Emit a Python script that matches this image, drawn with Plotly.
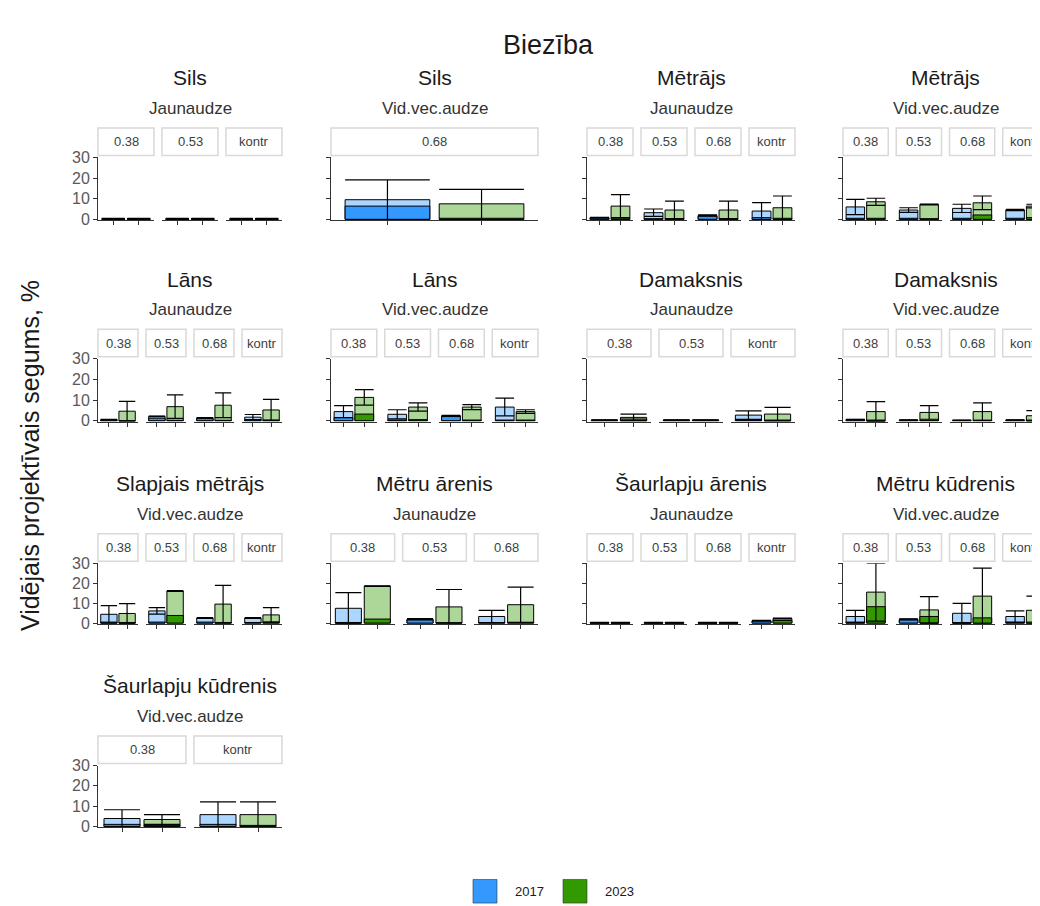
import plotly.graph_objects as go

W, H = 1040, 906

# --- dati (nolasīti no attēla) ---
panel_titles = ["Sils", "Sils", "Mētrājs", "Mētrājs",
                "Lāns", "Lāns", "Damaksnis", "Damaksnis",
                "Slapjais mētrājs", "Mētru ārenis", "Šaurlapju ārenis", "Mētru kūdrenis",
                "Šaurlapju kūdrenis"]
panel_subtitles = ["Jaunaudze", "Vid.vec.audze", "Jaunaudze", "Vid.vec.audze",
                   "Jaunaudze", "Vid.vec.audze", "Jaunaudze", "Vid.vec.audze",
                   "Vid.vec.audze", "Jaunaudze", "Jaunaudze", "Vid.vec.audze",
                   "Vid.vec.audze"]
L4 = ["0.38", "0.53", "0.68", "kontr"]
panel_levels = [["0.38", "0.53", "kontr"], ["0.68"], L4, L4,
                L4, L4, ["0.38", "0.53", "kontr"], L4,
                L4, ["0.38", "0.53", "0.68"], L4, L4,
                ["0.38", "kontr"]]
years = ["2017", "2023"]

mean_2017 = [[0.3, 0.3, 0.3], [9.5], [0.8, 3.2, 1.9, 4.0], [6.0, 4.5, 5.3, 4.5],
             [0.5, 2.1, 1.4, 1.7], [4.4, 3.1, 2.4, 6.6], [0.3, 0.3, 2.7], [0.6, 0.3, 0.2, 0.3],
             [4.4, 6.1, 2.5, 2.5], [7.4, 2.0, 3.3], [0.2, 0.2, 0.2, 1.2], [3.3, 2.0, 4.9, 3.3],
             [3.9, 5.8]]
median_2017 = [[0.1, 0.1, 0.1], [6.4], [0.6, 0.3, 1.5, 0.8], [0.5, 0.5, 0.5, 0.5],
               [0.4, 1.2, 1.0, 0.5], [1.5, 0.3, 2.0, 0.3], [0.2, 0.2, 0.3], [0.5, 0.2, 0.1, 0.2],
               [0.5, 0.5, 0.5, 0.3], [0.3, 1.5, 0.3], [0.1, 0.1, 0.1, 1.0], [0.5, 1.5, 0.3, 0.3],
               [1.0, 1.0]]
sd_2017 = [[0.1, 0.1, 0.1], [9.6], [0.1, 1.8, 0.3, 4.1], [3.7, 1.1, 2.0, 0.3],
           [0.1, 0.1, 0.1, 1.3], [2.9, 2.2, 0.2, 4.3], [0.1, 0.1, 2.1], [0.1, 0.1, 0.1, 0.1],
           [4.3, 1.6, 0.2, 0.2], [7.8, 0.2, 3.1], [0.1, 0.1, 0.1, 0.1], [3.1, 0.1, 5.0, 2.8],
           [4.3, 6.3]]

mean_2023 = [[0.3, 0.3, 0.3], [7.5], [6.4, 4.5, 4.5, 5.6], [8.5, 7.2, 8.0, 6.4],
             [4.6, 6.8, 7.5, 5.2], [11.3, 6.6, 6.6, 4.4], [1.6, 0.3, 3.2], [4.4, 4.0, 4.4, 2.4],
             [4.8, 16.1, 9.5, 4.1], [18.5, 8.1, 9.2], [0.2, 0.2, 0.2, 2.3], [15.5, 6.6, 13.5, 6.4],
             [3.4, 5.8]]
median_2023 = [[0.1, 0.1, 0.1], [0.0], [0.2, 0.3, 0.3, 0.5], [0.5, 0.3, 2.1, 0.8],
               [0.0, 0.2, 0.2, 0.3], [3.2, 0.5, 0.3, 0.3], [0.8, 0.2, 0.3], [0.3, 0.2, 0.2, 0.3],
               [0.3, 3.8, 0.3, 0.5], [2.0, 0.2, 0.3], [0.1, 0.1, 0.1, 1.3], [8.2, 3.3, 2.6, 0.5],
               [0.5, 0.5]]
sd_2023 = [[0.1, 0.1, 0.1], [7.0], [5.6, 4.3, 4.3, 5.7], [1.7, 0.2, 3.3, 0.9],
           [4.8, 5.7, 6.0, 5.1], [3.8, 2.0, 1.2, 0.9], [1.6, 0.1, 3.3], [4.8, 3.3, 4.2, 2.5],
           [4.9, 0.2, 9.4, 3.6], [0.1, 8.7, 8.8], [0.1, 0.1, 0.1, 0.2], [14.5, 6.6, 14.0, 7.1],
           [2.4, 6.3]]

y_ticks = [0, 10, 20, 30]

# krāsas
col_dark = ["#3399FF", "#339900"]
col_light = ["#ADD6FF", "#ADD699"]
FONT = "Liberation Sans, Arial, sans-serif"

# izkārtojums pikseļos
col_left = [90, 323, 579, 835]
col_right = [274, 530, 787, 1040]
row_top = [144, 349, 557, 763]      # y = 30
row_bottom = [208, 413, 619, 826]   # ass apakša
gap = 8
y_min = -0.5

fig = go.Figure()
layout = {}
shapes = []
annotations = []


def ax_name(kind, n):
    return kind if n == 1 else f"{kind}{n}"


xn = 0
for p, title in enumerate(panel_titles):
    r, c = divmod(p, 4)
    levels = panel_levels[p]
    n = len(levels)
    left, right = col_left[c], col_right[c]
    w = (right - left - (n - 1) * gap) / n
    yid = p + 1
    first_x = xn + 1

    # virsraksti
    cx = (left + right) / 2
    annotations.append(dict(text=title, x=cx / W, y=1 - (row_top[r] - 81) / H, xref="paper", yref="paper",
                            showarrow=False, font=dict(size=21, color="#1A1A1A", family=FONT),
                            xanchor="center", yanchor="middle"))
    annotations.append(dict(text=panel_subtitles[p], x=cx / W, y=1 - (row_top[r] - 50) / H,
                            xref="paper", yref="paper", showarrow=False,
                            font=dict(size=17, color="#333333", family=FONT),
                            xanchor="center", yanchor="middle"))

    for k, lev in enumerate(levels):
        xn += 1
        x0 = left + k * (w + gap)
        x1 = x0 + w
        xref = ax_name("x", xn)
        yref = ax_name("y", yid)
        layout[ax_name("xaxis", xn)] = dict(
            domain=[x0 / W, min(x1 / W, 1)], anchor=yref, range=[-0.6, 1.6],
            showline=True, linecolor="#333333", linewidth=1, ticks="outside", ticklen=4,
            tickcolor="#333333", tickvals=[0, 1], showticklabels=False, showgrid=False,
            zeroline=False, fixedrange=True)

        # strip
        shapes.append(dict(type="rect", xref="paper", yref="paper", x0=x0 / W, x1=x1 / W,
                           y0=1 - (row_top[r] - 2) / H, y1=1 - (row_top[r] - 30) / H,
                           line=dict(color="#D9D9D9", width=1.5), fillcolor="white"))
        annotations.append(dict(text=lev, x=(x0 + x1) / 2 / W, y=1 - (row_top[r] - 16) / H,
                                xref="paper", yref="paper", showarrow=False,
                                font=dict(size=13, color="#404040", family=FONT),
                                xanchor="center", yanchor="middle"))

        means = [mean_2017[p][k], mean_2023[p][k]]
        meds = [median_2017[p][k], median_2023[p][k]]
        sds = [sd_2017[p][k], sd_2023[p][k]]
        # apakšējā kļūdas daļa tiek nogriezta pie ass
        sds_low = [min(s, m - y_min) for s, m in zip(sds, means)]

        fig.add_trace(go.Bar(x=[0, 1], y=means, width=0.9, xaxis=xref, yaxis=yref,
                             marker=dict(color=col_light, line=dict(color="black", width=1)),
                             showlegend=False, hoverinfo="skip"))
        fig.add_trace(go.Bar(x=[0, 1], y=meds, width=0.9, xaxis=xref, yaxis=yref,
                             marker=dict(color=col_dark, line=dict(color="black", width=1)),
                             showlegend=False, hoverinfo="skip"))
        cap = 0.45 * w / 2.2
        fig.add_trace(go.Scatter(x=[0, 1], y=means, mode="markers", xaxis=xref, yaxis=yref,
                                 marker=dict(size=1, color="rgba(0,0,0,0)"),
                                 error_y=dict(type="data", symmetric=False, array=sds,
                                              arrayminus=sds_low, color="black",
                                              thickness=1.2, width=cap),
                                 showlegend=False, hoverinfo="skip"))

    layout[ax_name("yaxis", yid)] = dict(
        domain=[1 - row_bottom[r] / H, 1 - row_top[r] / H], anchor=ax_name("x", first_x),
        range=[y_min, 30], tickvals=y_ticks, showticklabels=(c == 0),
        tickfont=dict(size=16, color="#595959", family=FONT),
        showline=True, linecolor="#333333", linewidth=1, ticks="outside", ticklen=4,
        tickcolor="#333333", showgrid=False, zeroline=False, fixedrange=True)

# leģenda
leg_x = [465, 555]
for i, yr in enumerate(years):
    shapes.append(dict(type="rect", xref="paper", yref="paper",
                       x0=leg_x[i] / W, x1=(leg_x[i] + 24) / W,
                       y0=1 - 903 / H, y1=1 - 879 / H,
                       line=dict(color="#333333", width=0.6), fillcolor=col_dark[i]))
    annotations.append(dict(text=yr, x=(leg_x[i] + 40) / W, y=1 - 891 / H, xref="paper",
                            yref="paper", showarrow=False, xanchor="left", yanchor="middle",
                            font=dict(size=13, color="#1A1A1A", family=FONT)))

annotations.append(dict(text="Biezība", x=540 / W, y=1 - 30 / H, xref="paper", yref="paper",
                        showarrow=False, font=dict(size=27, color="#1A1A1A", family=FONT),
                        xanchor="center", yanchor="middle"))
annotations.append(dict(text="Vidējais projektīvais segums, %", x=22 / W, y=1 - 448 / H,
                        xref="paper", yref="paper", showarrow=False, textangle=-90,
                        font=dict(size=25, color="#1A1A1A", family=FONT),
                        xanchor="center", yanchor="middle"))

fig.update_layout(**layout)
fig.update_layout(
    width=W, height=H, margin=dict(l=0, r=0, t=0, b=0),
    barmode="overlay", plot_bgcolor="white", paper_bgcolor="white",
    shapes=shapes, annotations=annotations, showlegend=False,
    font=dict(family=FONT),
)

fig.write_html("out.html")
